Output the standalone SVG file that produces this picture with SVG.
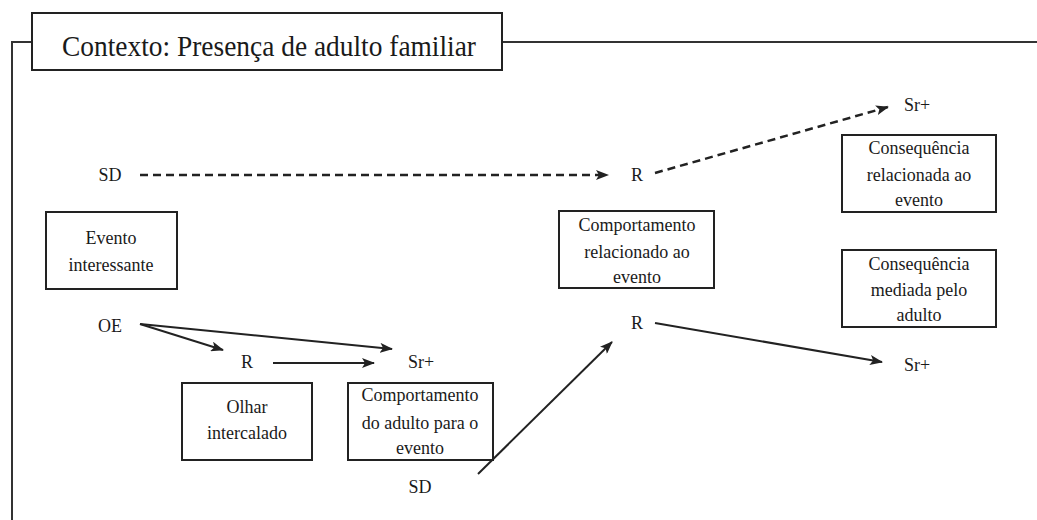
<svg xmlns="http://www.w3.org/2000/svg" width="1037" height="520" viewBox="0 0 1037 520">
<style>
.box{fill:#fff;stroke:#222;stroke-width:2}
.t{font-family:"Liberation Serif","Times New Roman",serif;font-size:18px;fill:#1a1a1a;text-anchor:middle}
.title{font-family:"Liberation Serif","Times New Roman",serif;font-size:30px;fill:#1a1a1a}
.frame{fill:none;stroke:#333;stroke-width:2}
.c{fill:none;stroke:#222;stroke-width:2;marker-end:url(#ah)}
.d{fill:none;stroke:#222;stroke-width:2.5;stroke-dasharray:8 5;marker-end:url(#ah)}
</style>
<defs>
<marker id="ah" markerUnits="userSpaceOnUse" markerWidth="13" markerHeight="10" refX="12" refY="5" orient="auto">
<path d="M0,0 L13,5 L0,10 L3,5 Z" fill="#222"/>
</marker>
</defs>
<rect width="1037" height="520" fill="#fff"/>
<g id="frame">
<path class="frame" d="M12,520 V42 H32 M502,42 H1037"/>
</g>
<g id="title">
<rect class="box" x="32" y="13" width="470" height="57"/>
<text class="title" x="62" y="56" textLength="414" lengthAdjust="spacingAndGlyphs">Contexto: Presença de adulto familiar</text>
</g>
<g id="evento">
<rect class="box" x="46" y="212" width="131" height="77"/>
<text class="t" x="111" y="244">Evento</text>
<text class="t" x="111" y="271">interessante</text>
</g>
<g id="olhar">
<rect class="box" x="182" y="383" width="130" height="77"/>
<text class="t" x="247" y="413">Olhar</text>
<text class="t" x="247" y="439">intercalado</text>
</g>
<g id="comp-adulto">
<rect class="box" x="348" y="383" width="145" height="77"/>
<text class="t" x="420" y="401">Comportamento</text>
<text class="t" x="420" y="429">do adulto para o</text>
<text class="t" x="420" y="454">evento</text>
</g>
<g id="comp-relacionado">
<rect class="box" x="559" y="211" width="155" height="77"/>
<text class="t" x="637" y="231">Comportamento</text>
<text class="t" x="637" y="258">relacionado ao</text>
<text class="t" x="637" y="283">evento</text>
</g>
<g id="consequencia-evento">
<rect class="box" x="842" y="135" width="154" height="77"/>
<text class="t" x="919" y="154">Consequência</text>
<text class="t" x="919" y="181">relacionada ao</text>
<text class="t" x="919" y="206">evento</text>
</g>
<g id="consequencia-adulto">
<rect class="box" x="842" y="250" width="154" height="77"/>
<text class="t" x="919" y="270">Consequência</text>
<text class="t" x="919" y="296">mediada pelo</text>
<text class="t" x="919" y="321">adulto</text>
</g>
<g id="labels">
<text class="t" x="110" y="181">SD</text>
<text class="t" x="637" y="181">R</text>
<text class="t" x="917" y="111">Sr+</text>
<text class="t" x="110" y="332">OE</text>
<text class="t" x="247" y="368">R</text>
<text class="t" x="421" y="368">Sr+</text>
<text class="t" x="637" y="329">R</text>
<text class="t" x="917" y="371">Sr+</text>
<text class="t" x="420" y="493">SD</text>
</g>
<g id="connectors">
<line class="d" x1="140" y1="175" x2="608" y2="175"/>
<line class="d" x1="655" y1="173" x2="888" y2="107"/>
<line class="c" x1="140" y1="324" x2="223" y2="350"/>
<line class="c" x1="140" y1="324" x2="392" y2="349"/>
<line class="c" x1="273" y1="363" x2="374" y2="363"/>
<line class="c" x1="478" y1="474" x2="612" y2="342"/>
<line class="c" x1="655" y1="323" x2="882" y2="362"/>
</g>
</svg>
